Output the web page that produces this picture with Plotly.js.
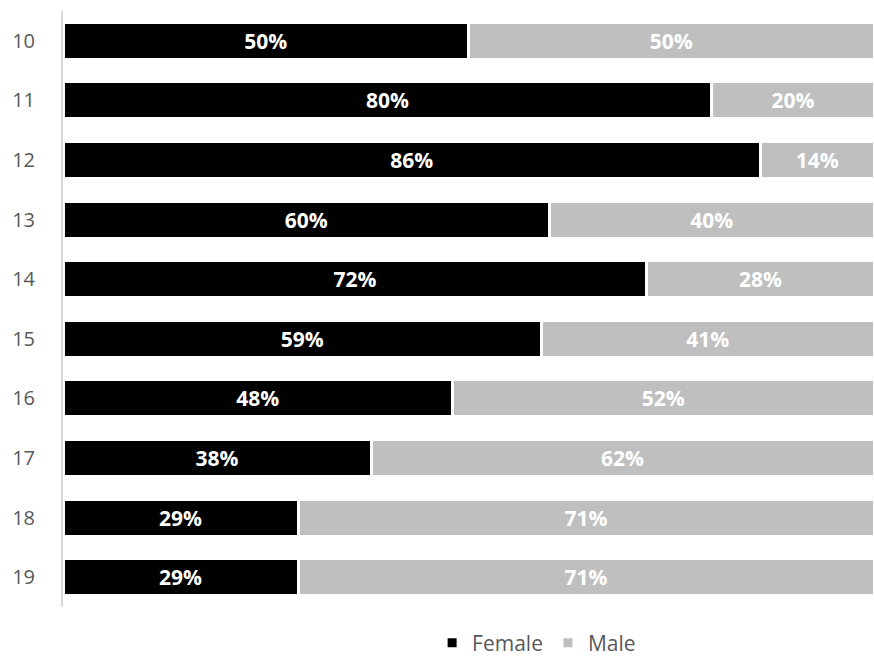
<!DOCTYPE html>
<html>
<head>
<meta charset="utf-8">
<script src="https://cdn.plot.ly/plotly-3.0.1.min.js"></script>
<style>html,body{margin:0;padding:0;background:#fff;}#chart{width:874px;height:661px;}</style>
</head>
<body>
<div id="chart"></div>
<script>
const categories = ["10","11","12","13","14","15","16","17","18","19"];
const female = [50,80,86,60,72,59,48,38,29,29];
const male = [50,20,14,40,28,41,52,62,71,71];
const seriesNames = ["Female","Male"];
const colors = ["#000000","#bfbfbf"];

const fontFam = "'Open Sans', 'Noto Sans', sans-serif";
function mk(vals, i){
  return {
    type:'bar', orientation:'h', name:seriesNames[i],
    y:categories, x:vals,
    text:vals.map(v=>v+'%'), textposition:'inside', insidetextanchor:'middle',
    textangle:0, constraintext:'none',
    textfont:{family:fontFam, size:21, color:'#ffffff', weight:'bold'},
    marker:{color:colors[i], line:{color:'#ffffff', width:3}},
    hoverinfo:'skip'
  };
}
const data = [mk(female,0), mk(male,1)];
const layout = {
  width:874, height:661,
  barmode:'stack', bargap:0.38,
  margin:{l:63, r:0, t:11, b:54, autoexpand:false},
  paper_bgcolor:'#fff', plot_bgcolor:'#fff',
  font:{family:fontFam, color:'#595959', size:20},
  xaxis:{range:[0,100], showgrid:false, zeroline:false, showticklabels:false, showline:false, fixedrange:true},
  yaxis:{type:'category', autorange:'reversed', showgrid:false, zeroline:false,
         showline:true, linecolor:'#d9d9d9', linewidth:2, ticks:'', ticklabelstandoff:22,
         tickfont:{size:20, color:'#595959'}},
  showlegend:true,
  legend:{orientation:'h', x:0.584, xanchor:'center', yref:'container', y:0.027, yanchor:'middle',
          font:{size:21, color:'#595959'}, traceorder:'normal', itemwidth:30},
};
Plotly.newPlot('chart', data, layout, {staticPlot:true});
</script>
</body>
</html>
